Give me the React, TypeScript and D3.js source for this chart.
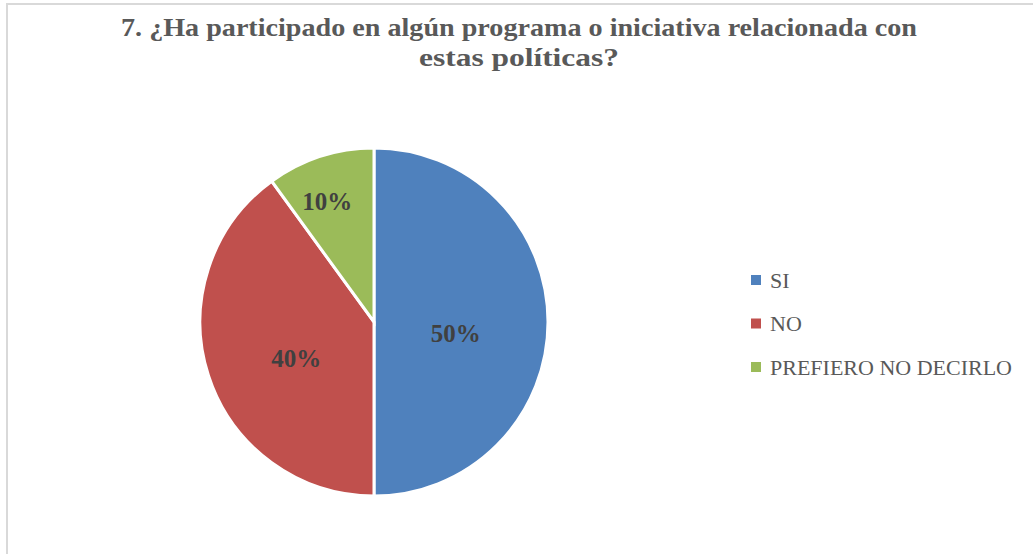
import React from 'react';
import * as d3 from 'd3';

const categories = ['SI', 'NO', 'PREFIERO NO DECIRLO'];
const values = [50, 40, 10];
const colors = ['#4F81BD', '#C0504D', '#9BBB59'];
const titleLines = [
  '7. ¿Ha participado en algún programa o iniciativa relacionada con',
  'estas políticas?',
];
const titleWidths = [796, 200];

const W = 1033;
const H = 554;

export default function App() {
  const cx = 374;
  const cy = 322;
  const r = 174;

  const pie = d3.pie<number>().sort(null).value(d => d);
  const arcs = pie(values);
  const arc = d3.arc<d3.PieArcDatum<number>>().innerRadius(0).outerRadius(r);
  const total = d3.sum(values);

  // small slices get their label pushed outward like Excel's best fit
  const labelPos = (a: d3.PieArcDatum<number>) => {
    const share = a.value / total;
    const lr = share < 0.2 ? r * 0.74 : r * 0.47;
    const mid = (a.startAngle + a.endAngle) / 2;
    const off = share < 0.2 ? 2 : 11;
    return [Math.sin(mid) * lr - (share < 0.2 ? 7 : 0), -Math.cos(mid) * lr + off];
  };

  const legendY = d3.scalePoint<string>().domain(categories).range([280, 367]);

  return (
    <svg width={W} height={H} style={{ position: 'absolute', left: 0, top: 0, background: '#fff' }}>
      <rect x={7} y={4} width={W + 10} height={H + 10} fill="#fff" stroke="#D9D9D9" strokeWidth={2} />
      <g fontFamily="'Liberation Serif', serif" fontWeight="bold" fill="#595959" fontSize={26} textAnchor="middle">
        {titleLines.map((t, i) => (
          <text key={i} x={519} y={36 + i * 30} textLength={titleWidths[i]} lengthAdjust="spacingAndGlyphs">{t}</text>
        ))}
      </g>
      <g transform={`translate(${cx},${cy})`}>
        {arcs.map((a, i) => (
          <path key={i} d={arc(a) || ''} fill={colors[i]} stroke="#fff" strokeWidth={3} />
        ))}
        {arcs.map((a, i) => {
          const [x, y] = labelPos(a);
          return (
            <text key={'l' + i} x={x} y={y} dy="0.35em" textAnchor="middle"
              fontFamily="'Liberation Serif', serif" fontWeight="bold" fontSize={25} fill="#404040">
              {Math.round((a.value / total) * 100)}%
            </text>
          );
        })}
      </g>
      <g fontFamily="'Liberation Serif', serif" fontSize={22} fill="#595959">
        {categories.map((c, i) => (
          <g key={c} transform={`translate(751,${legendY(c)})`}>
            <rect x={0} y={-5} width={10} height={10} fill={colors[i]} />
            <text x={19} y={0} dy="0.35em">{c}</text>
          </g>
        ))}
      </g>
    </svg>
  );
}
